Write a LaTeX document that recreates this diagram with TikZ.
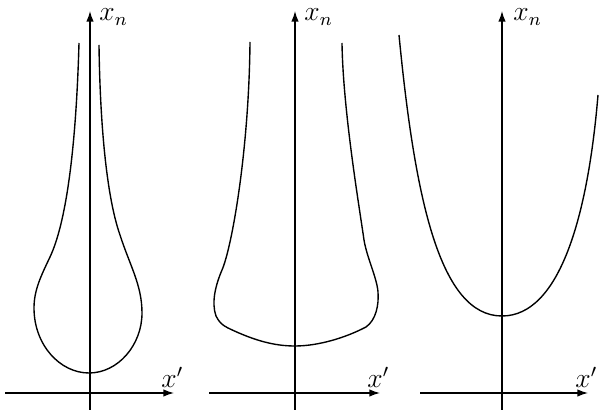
\documentclass[tikz,border=0pt]{standalone}
\usetikzlibrary{arrows.meta}
\begin{document}
\begin{tikzpicture}[x=0.434pt,y=-0.434pt,
  axis/.style={line width=0.55pt,-{Latex[length=4.6pt,width=3.2pt]}},
  curve/.style={line width=0.6pt},
  lbl/.style={inner sep=0pt,anchor=west,font=\fontsize{11.5}{14}\selectfont}]
\useasboundingbox (0,0) rectangle (599,412);
% panel 1
\coordinate (a1b) at (90,410); \coordinate (a1t) at (90,11);
\coordinate (h1l) at (5,393);  \coordinate (h1r) at (174,393);
\draw[axis] (a1b) -- (a1t);
\draw[axis] (h1l) -- (h1r);
\node[lbl] (xn1) at (99,17) {$x_n$};
\node[lbl] (xp1) at (161,377) {$x'$};
\draw[curve] (79,43) .. controls (76,150) and (66,223) .. (50,257)
  .. controls (41,276) and (34,290) .. (34,308)
  .. controls (34,345) and (60,373) .. (89,373)
  .. controls (118,373) and (142,345) .. (142,313)
  .. controls (142,285) and (130,266) .. (120,235)
  .. controls (106,195) and (100,120) .. (99,45);
% panel 2
\coordinate (a2b) at (295,410); \coordinate (a2t) at (295,11);
\coordinate (h2l) at (209,393); \coordinate (h2r) at (380,393);
\draw[axis] (a2b) -- (a2t);
\draw[axis] (h2l) -- (h2r);
\node[lbl] (xn2) at (304,17) {$x_n$};
\node[lbl] (xp2) at (367,377) {$x'$};
\draw[curve] (250,42) .. controls (249,150) and (232,247) .. (222,270)
  .. controls (216,284) and (211,302) .. (216,316)
  .. controls (219,322) and (222,325) .. (228,328)
  .. controls (255,341) and (275,346) .. (295,346)
  .. controls (318,346) and (345,338) .. (366,327)
  .. controls (376,320) and (379,305) .. (378,292)
  .. controls (377,278) and (367,258) .. (364,240)
  .. controls (359,205) and (343,110) .. (342,43);
% panel 3
\coordinate (a3b) at (502,410); \coordinate (a3t) at (502,11);
\coordinate (h3l) at (420,393); \coordinate (h3r) at (588,393);
\draw[axis] (a3b) -- (a3t);
\draw[axis] (h3l) -- (h3r);
\node[lbl] (xn3) at (513,17) {$x_n$};
\node[lbl] (xp3) at (575,377) {$x'$};
\draw[curve] (399,35) .. controls (415,200) and (440,316) .. (502,316)
  .. controls (560,316) and (588,215) .. (598,95);
\end{tikzpicture}
\end{document}
